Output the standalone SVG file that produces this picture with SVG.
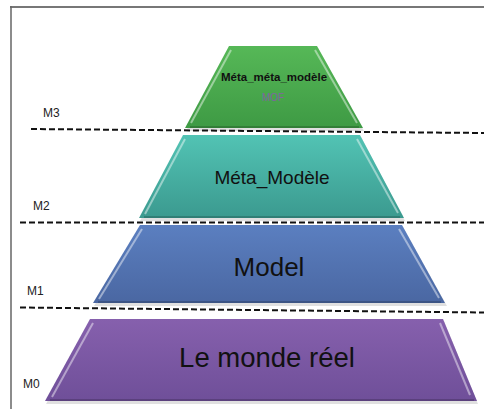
<svg xmlns="http://www.w3.org/2000/svg" width="484" height="409" viewBox="0 0 484 409">
<style>
.lvl{font-family:"Liberation Sans",Arial,sans-serif;font-size:12px;fill:#222}
.lbl{font-family:"Liberation Sans",Arial,sans-serif;fill:#111;text-anchor:middle}
.dash{stroke:#111;stroke-width:2;stroke-dasharray:6 3;fill:none}
.hl{stroke:#ffffff;stroke-opacity:0.45;stroke-width:2;fill:none}
.dk{stroke:#000;stroke-opacity:0.18;stroke-width:2;fill:none}
</style>
<defs>
<linearGradient id="gG" x1="0" y1="0" x2="0" y2="1"><stop offset="0" stop-color="#56b857"/><stop offset="1" stop-color="#3e9a44"/></linearGradient>
<linearGradient id="gT" x1="0" y1="0" x2="0" y2="1"><stop offset="0" stop-color="#52c3b4"/><stop offset="1" stop-color="#3b9a8f"/></linearGradient>
<linearGradient id="gB" x1="0" y1="0" x2="0" y2="1"><stop offset="0" stop-color="#5b7fc0"/><stop offset="1" stop-color="#4a67a2"/></linearGradient>
<linearGradient id="gP" x1="0" y1="0" x2="0" y2="1"><stop offset="0" stop-color="#8660ad"/><stop offset="1" stop-color="#6f4f99"/></linearGradient>
</defs>
<g id="frame">
<line x1="10" y1="7" x2="484" y2="7" stroke="#777" stroke-width="2"/>
<line x1="11" y1="6" x2="11" y2="409" stroke="#666" stroke-width="1.5"/>
</g>
<g id="m0">
<polygon points="90,319 443,319 477,402 45,402" fill="#000" fill-opacity="0.12" transform="translate(1,2)"/>
<polygon points="90,319 443,319 477,401 45,401" fill="url(#gP)"/>
<line class="hl" x1="93" y1="323" x2="52" y2="397"/>
<line class="hl" x1="440" y1="323" x2="470" y2="395" stroke-opacity="0.25"/>
<line class="dk" x1="50" y1="400" x2="474" y2="400"/>
<text class="lbl" x="267" y="367" font-size="27.5">Le monde réel</text>
</g>
<g id="m1">
<polygon points="140,225 402,225 446,304 93,304" fill="#000" fill-opacity="0.12" transform="translate(1,2)"/>
<polygon points="140,225 402,225 445,303 93,303" fill="url(#gB)"/>
<line class="hl" x1="142" y1="229" x2="99" y2="299"/>
<line class="hl" x1="399" y1="229" x2="439" y2="298" stroke-opacity="0.25"/>
<line class="dk" x1="98" y1="302" x2="441" y2="302"/>
<text class="lbl" x="269" y="276" font-size="26">Model</text>
</g>
<g id="m2">
<polygon points="183,135 360,135 404,219 139,219" fill="#000" fill-opacity="0.12" transform="translate(1,2)"/>
<polygon points="183,135 360,135 404,218 139,218" fill="url(#gT)"/>
<line class="hl" x1="185" y1="139" x2="145" y2="214"/>
<line class="hl" x1="357" y1="139" x2="398" y2="213" stroke-opacity="0.25"/>
<line class="dk" x1="144" y1="217" x2="400" y2="217"/>
<text class="lbl" x="272" y="184" font-size="19">Méta_Modèle</text>
</g>
<g id="m3">
<polygon points="229,46 317,46 363,129 185,129" fill="#000" fill-opacity="0.12" transform="translate(1,2)"/>
<polygon points="229,46 317,46 363,128 185,128" fill="url(#gG)"/>
<line class="hl" x1="231" y1="50" x2="191" y2="123"/>
<line class="hl" x1="315" y1="50" x2="357" y2="123" stroke-opacity="0.25"/>
<line class="dk" x1="190" y1="127" x2="359" y2="127"/>
<text class="lbl" x="274" y="81" font-size="11.5" font-weight="bold">Méta_méta_modèle</text>
<text x="273" y="101" font-family="Liberation Sans,Arial,sans-serif" font-size="10" fill="#8064a2" text-anchor="middle">MOF</text>
</g>
<g id="connectors">
<line class="dash" x1="31" y1="129" x2="484" y2="133"/>
<line class="dash" x1="20" y1="222.5" x2="484" y2="222.5"/>
<line class="dash" x1="20" y1="307.5" x2="484" y2="312.5"/>
</g>
<g id="labels">
<text class="lvl" x="43" y="117">M3</text>
<text class="lvl" x="33" y="210">M2</text>
<text class="lvl" x="27" y="295">M1</text>
<text class="lvl" x="23" y="388">M0</text>
</g>
</svg>
